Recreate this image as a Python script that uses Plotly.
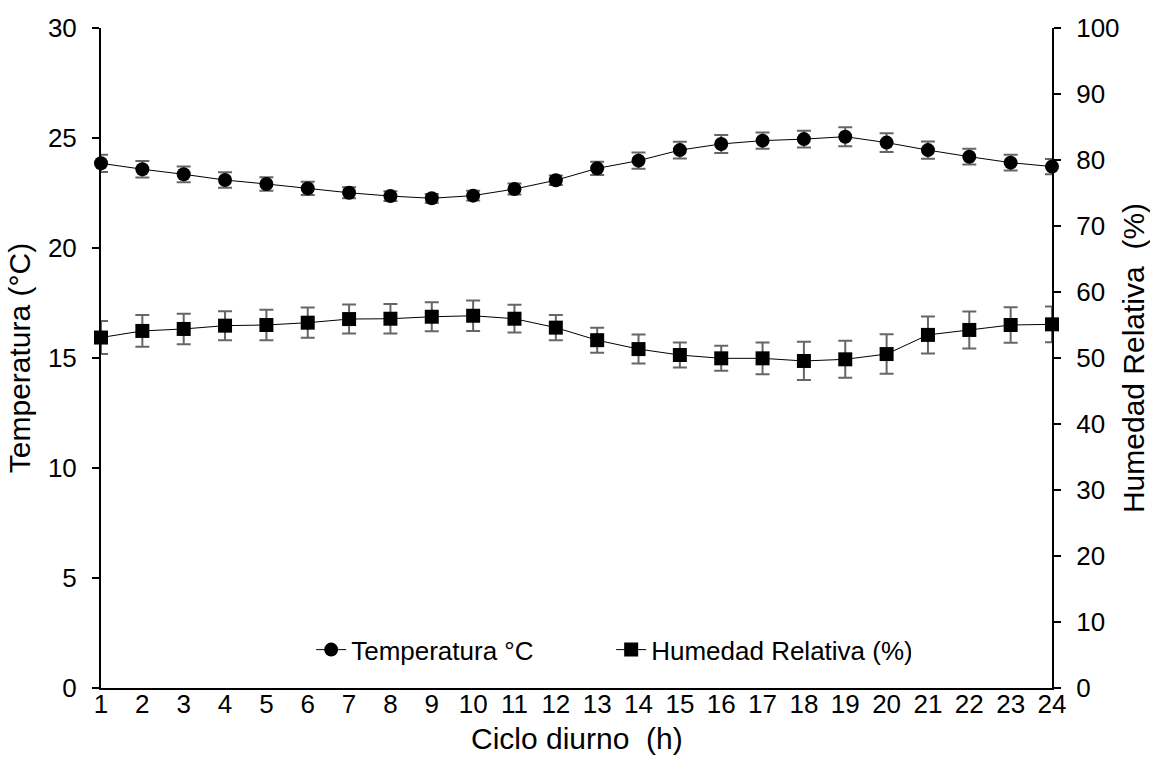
import plotly.graph_objects as go

hours = list(range(1, 25))
hour_labels = [str(h) for h in hours]

temp_c = [23.85, 23.58, 23.35, 23.09, 22.91, 22.71, 22.51, 22.36, 22.26, 22.38, 22.68, 23.08,
          23.62, 23.97, 24.45, 24.73, 24.88, 24.95, 25.06, 24.79, 24.45, 24.15, 23.88, 23.70]
temp_err = [0.39, 0.38, 0.36, 0.35, 0.31, 0.30, 0.25, 0.22, 0.20, 0.22, 0.25, 0.22,
            0.30, 0.37, 0.38, 0.41, 0.37, 0.38, 0.43, 0.43, 0.39, 0.36, 0.36, 0.35]

humidity = [53.1, 54.1, 54.4, 54.9, 55.0, 55.35, 55.9, 55.95, 56.25, 56.4, 55.95, 54.6,
            52.7, 51.35, 50.45, 49.95, 49.95, 49.55, 49.8, 50.6, 53.5, 54.25, 55.0, 55.1]
hum_err = [2.5, 2.4, 2.3, 2.2, 2.3, 2.3, 2.2, 2.25, 2.2, 2.3, 2.1, 1.9,
           1.9, 2.2, 1.9, 1.9, 2.4, 2.9, 2.8, 3.0, 2.8, 2.8, 2.7, 2.7]

FONT = "Liberation Sans, Arial, sans-serif"
FS = 26
TITLE_FS = 30
ERR_COLOR = "#666666"

fig = go.Figure()

fig.add_trace(go.Scatter(
    x=hours, y=temp_c, name="Temperatura °C", mode="lines+markers",
    line=dict(color="black", width=1),
    marker=dict(symbol="circle", size=14, color="black"),
    error_y=dict(type="data", array=temp_err, visible=True,
                 color=ERR_COLOR, thickness=2, width=7),
    cliponaxis=False,
))

fig.add_trace(go.Scatter(
    x=hours, y=humidity, name="Humedad Relativa (%)", mode="lines+markers",
    yaxis="y2",
    line=dict(color="black", width=1),
    marker=dict(symbol="square", size=14, color="black"),
    error_y=dict(type="data", array=hum_err, visible=True,
                 color=ERR_COLOR, thickness=2, width=7),
    cliponaxis=False,
))

fig.update_layout(
    width=1150, height=771,
    margin=dict(l=101, r=98, t=28, b=83, pad=0),
    paper_bgcolor="white", plot_bgcolor="white",
    font=dict(family=FONT, size=FS, color="black"),
    showlegend=True,
    legend=dict(orientation="h", x=0.221, y=0.058, xanchor="left", yanchor="middle",
                bgcolor="rgba(0,0,0,0)", font=dict(family=FONT, size=FS, color="black"),
                entrywidth=255, entrywidthmode="pixels", tracegroupgap=0),
    xaxis=dict(
        range=[1, 24], tickmode="array", tickvals=hours, ticktext=hour_labels,
        showline=True, linecolor="black", linewidth=2, ticks="",
        showgrid=False, zeroline=False, ticklabelstandoff=-8, automargin=False,
    ),
    yaxis=dict(
        range=[0, 30], dtick=5, tick0=0,
        showline=True, linecolor="black", linewidth=2,
        ticks="outside", ticklen=7, tickwidth=1.5, tickcolor="black",
        showgrid=False, zeroline=False, ticklabelstandoff=10, automargin=False,
        title=dict(text="Temperatura (°C)", standoff=8,
                   font=dict(family=FONT, size=TITLE_FS, color="black")),
    ),
    yaxis2=dict(
        range=[0, 100], dtick=10, tick0=0, overlaying="y", side="right",
        showline=True, linecolor="black", linewidth=2,
        ticks="outside", ticklen=7, tickwidth=1.5, tickcolor="black",
        showgrid=False, zeroline=False, ticklabelstandoff=10, automargin=False,
        title=dict(text="Humedad Relativa \u00a0(%)", standoff=8,
                   font=dict(family=FONT, size=TITLE_FS, color="black")),
    ),
)

# x-axis caption placed just below the hour labels
fig.add_annotation(
    text="Ciclo diurno \u00a0(h)", xref="paper", yref="paper",
    x=0.5, y=-0.077, xanchor="center", yanchor="middle",
    showarrow=False, font=dict(family=FONT, size=TITLE_FS, color="black"),
)

fig.write_html("out.html")
